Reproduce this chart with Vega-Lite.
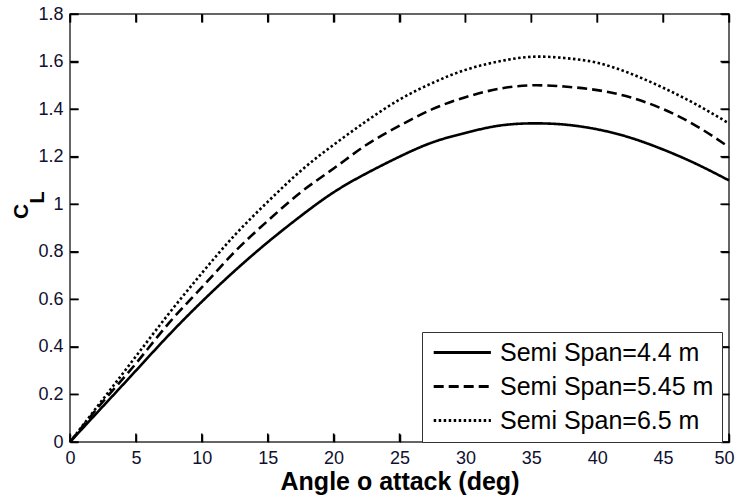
{
  "$schema": "https://vega.github.io/schema/vega-lite/v6.json",
  "autosize": {"type": "none"},
  "padding": {"left": 70, "top": 14, "right": 8, "bottom": 59},
  "width": 659,
  "height": 428,
  "background": "white",
  "config": {
    "view": {"stroke": "#333", "strokeWidth": 1.5},
    "font": "Liberation Sans",
    "axis": {"grid": false, "domain": false, "ticks": true, "zindex": 2, "tickColor": "black", "tickOpacity": 1, "tickSize": 8, "offset": -8, "tickWidth": 1.5, "labelFlush": false, "labelOverlap": false, "labelFontSize": 18, "labelColor": "#101030", "labelFont": "Liberation Sans", "titleFont": "Liberation Sans", "titleColor": "black", "titleFontWeight": "bold"}
  },
  "datasets": {
    "xticks": [{"t":0},{"t":5},{"t":10},{"t":15},{"t":20},{"t":25},{"t":30},{"t":35},{"t":40},{"t":45},{"t":50}],
    "yticks": [{"t":0},{"t":0.2},{"t":0.4},{"t":0.6},{"t":0.8},{"t":1},{"t":1.2},{"t":1.4},{"t":1.6},{"t":1.8}]
  },
  "data": {"values": [
    {"a":0,"cl":0,"s":"Semi Span=4.4 m"},{"a":2.5,"cl":0.15,"s":"Semi Span=4.4 m"},{"a":5,"cl":0.30,"s":"Semi Span=4.4 m"},{"a":7.5,"cl":0.45,"s":"Semi Span=4.4 m"},{"a":10,"cl":0.59,"s":"Semi Span=4.4 m"},{"a":12.5,"cl":0.72,"s":"Semi Span=4.4 m"},{"a":15,"cl":0.84,"s":"Semi Span=4.4 m"},{"a":17.5,"cl":0.95,"s":"Semi Span=4.4 m"},{"a":20,"cl":1.05,"s":"Semi Span=4.4 m"},{"a":22.5,"cl":1.13,"s":"Semi Span=4.4 m"},{"a":25,"cl":1.20,"s":"Semi Span=4.4 m"},{"a":27.5,"cl":1.26,"s":"Semi Span=4.4 m"},{"a":30,"cl":1.30,"s":"Semi Span=4.4 m"},{"a":32.5,"cl":1.33,"s":"Semi Span=4.4 m"},{"a":35,"cl":1.34,"s":"Semi Span=4.4 m"},{"a":37.5,"cl":1.335,"s":"Semi Span=4.4 m"},{"a":40,"cl":1.315,"s":"Semi Span=4.4 m"},{"a":42.5,"cl":1.28,"s":"Semi Span=4.4 m"},{"a":45,"cl":1.23,"s":"Semi Span=4.4 m"},{"a":47.5,"cl":1.17,"s":"Semi Span=4.4 m"},{"a":50,"cl":1.10,"s":"Semi Span=4.4 m"},
    {"a":0,"cl":0,"s":"Semi Span=5.45 m"},{"a":2.5,"cl":0.17,"s":"Semi Span=5.45 m"},{"a":5,"cl":0.33,"s":"Semi Span=5.45 m"},{"a":7.5,"cl":0.50,"s":"Semi Span=5.45 m"},{"a":10,"cl":0.65,"s":"Semi Span=5.45 m"},{"a":12.5,"cl":0.80,"s":"Semi Span=5.45 m"},{"a":15,"cl":0.93,"s":"Semi Span=5.45 m"},{"a":17.5,"cl":1.05,"s":"Semi Span=5.45 m"},{"a":20,"cl":1.15,"s":"Semi Span=5.45 m"},{"a":22.5,"cl":1.25,"s":"Semi Span=5.45 m"},{"a":25,"cl":1.33,"s":"Semi Span=5.45 m"},{"a":27.5,"cl":1.40,"s":"Semi Span=5.45 m"},{"a":30,"cl":1.45,"s":"Semi Span=5.45 m"},{"a":32.5,"cl":1.485,"s":"Semi Span=5.45 m"},{"a":35,"cl":1.50,"s":"Semi Span=5.45 m"},{"a":37.5,"cl":1.495,"s":"Semi Span=5.45 m"},{"a":40,"cl":1.48,"s":"Semi Span=5.45 m"},{"a":42.5,"cl":1.45,"s":"Semi Span=5.45 m"},{"a":45,"cl":1.40,"s":"Semi Span=5.45 m"},{"a":47.5,"cl":1.33,"s":"Semi Span=5.45 m"},{"a":50,"cl":1.24,"s":"Semi Span=5.45 m"},
    {"a":0,"cl":0,"s":"Semi Span=6.5 m"},{"a":2.5,"cl":0.18,"s":"Semi Span=6.5 m"},{"a":5,"cl":0.36,"s":"Semi Span=6.5 m"},{"a":7.5,"cl":0.54,"s":"Semi Span=6.5 m"},{"a":10,"cl":0.71,"s":"Semi Span=6.5 m"},{"a":12.5,"cl":0.87,"s":"Semi Span=6.5 m"},{"a":15,"cl":1.01,"s":"Semi Span=6.5 m"},{"a":17.5,"cl":1.14,"s":"Semi Span=6.5 m"},{"a":20,"cl":1.25,"s":"Semi Span=6.5 m"},{"a":22.5,"cl":1.35,"s":"Semi Span=6.5 m"},{"a":25,"cl":1.44,"s":"Semi Span=6.5 m"},{"a":27.5,"cl":1.51,"s":"Semi Span=6.5 m"},{"a":30,"cl":1.565,"s":"Semi Span=6.5 m"},{"a":32.5,"cl":1.60,"s":"Semi Span=6.5 m"},{"a":35,"cl":1.62,"s":"Semi Span=6.5 m"},{"a":37.5,"cl":1.615,"s":"Semi Span=6.5 m"},{"a":40,"cl":1.595,"s":"Semi Span=6.5 m"},{"a":42.5,"cl":1.55,"s":"Semi Span=6.5 m"},{"a":45,"cl":1.49,"s":"Semi Span=6.5 m"},{"a":47.5,"cl":1.42,"s":"Semi Span=6.5 m"},{"a":50,"cl":1.34,"s":"Semi Span=6.5 m"}
  ]},
  "resolve": {"axis": {"x": "independent", "y": "independent"}},
  "layer": [
    {
      "data": {"name": "xticks"},
      "mark": {"type": "rule", "color": "black", "strokeWidth": 1.5},
      "encoding": {
        "x": {"field": "t", "type": "quantitative", "scale": {"domain": [0, 50], "nice": false}, "axis": null},
        "y": {"datum": 0, "type": "quantitative", "scale": {"domain": [0, 1.8], "nice": false}, "axis": null},
        "y2": {"datum": 0.036}
      }
    },
    {
      "data": {"name": "xticks"},
      "mark": {"type": "rule", "color": "black", "strokeWidth": 1.5},
      "encoding": {
        "x": {"field": "t", "type": "quantitative", "axis": null},
        "y": {"datum": 1.8, "type": "quantitative", "axis": null},
        "y2": {"datum": 1.764}
      }
    },
    {
      "data": {"name": "yticks"},
      "mark": {"type": "rule", "color": "black", "strokeWidth": 1.5},
      "encoding": {
        "y": {"field": "t", "type": "quantitative", "axis": null},
        "x": {"datum": 0, "type": "quantitative", "axis": null},
        "x2": {"datum": 0.65}
      }
    },
    {
      "data": {"name": "yticks"},
      "mark": {"type": "rule", "color": "black", "strokeWidth": 1.5},
      "encoding": {
        "y": {"field": "t", "type": "quantitative", "axis": null},
        "x": {"datum": 50, "type": "quantitative", "axis": null},
        "x2": {"datum": 49.35}
      }
    },
    {
      "mark": {"type": "line", "color": "black", "strokeWidth": 2.6, "interpolate": "natural"},
      "encoding": {
        "x": {"field": "a", "type": "quantitative", "scale": {"domain": [0, 50], "nice": false}, "axis": {"values": [0,5,10,15,20,25,30,35,40,45,50], "labelFlush": true, "labelFlushOffset": 5, "title": "Angle o attack (deg)", "titleFontSize": 25, "titleBaseline": "alphabetic", "titleY": 55, "labelPadding": 7}},
        "y": {"field": "cl", "type": "quantitative", "scale": {"domain": [0, 1.8], "nice": false}, "axis": {"values": [0,0.2,0.4,0.6,0.8,1,1.2,1.4,1.6,1.8], "format": "~g", "title": "C", "titleFontSize": 21, "titleAngle": 270, "titleBaseline": "alphabetic", "titleAlign": "center", "titleX": -51, "titleY": 197, "labelPadding": 7}},
        "strokeDash": {"field": "s", "type": "nominal", "scale": {"domain": ["Semi Span=4.4 m", "Semi Span=5.45 m", "Semi Span=6.5 m"], "range": [[1, 0], [10, 5], [2.5, 2.5]]},
          "legend": {"title": null, "orient": "none", "legendX": 352, "legendY": 318, "symbolType": "M-0.8,0H4.4", "symbolSize": 484, "symbolStrokeWidth": 3, "symbolStrokeColor": "black", "labelFontSize": 25, "labelColor": "black", "labelOffset": 45, "labelLimit": 400, "strokeColor": "#333", "fillColor": "white", "padding": 8, "rowPadding": 8}}
      }
    },
    {
      "mark": {"type": "line", "opacity": 0},
      "encoding": {
        "x": {"field": "a", "type": "quantitative", "axis": {"orient": "top", "values": [0,5,10,15,20,25,30,35,40,45,50], "labels": false, "title": null}},
        "y": {"field": "cl", "type": "quantitative", "axis": {"orient": "right", "values": [0,0.2,0.4,0.6,0.8,1,1.2,1.4,1.6,1.8], "labels": false, "title": "L", "titleFontSize": 20, "titleAngle": 270, "titleBaseline": "alphabetic", "titleAlign": "center", "titleX": -678, "titleY": 183}}
      }
    }
  ]
}
